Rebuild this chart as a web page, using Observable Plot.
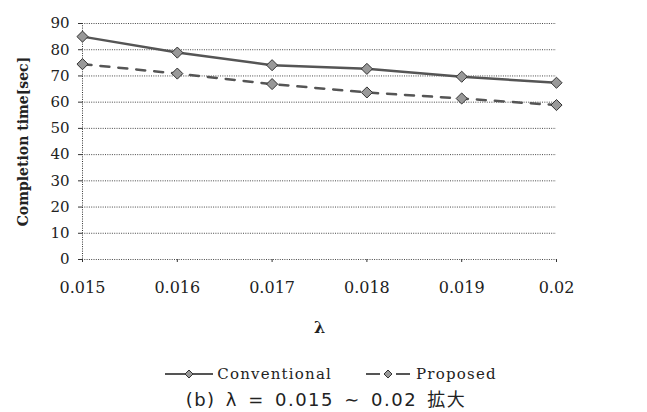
<!DOCTYPE html>
<html>
<head>
<meta charset="utf-8">
<script src="https://cdn.jsdelivr.net/npm/d3@7"></script>
<script src="https://cdn.jsdelivr.net/npm/@observablehq/plot@0.6"></script>
<style>
  body { margin: 0; background: #fff; width: 647px; height: 412px; overflow: hidden; }
  #legend { display: flex; justify-content: center; align-items: center; gap: 32px;
    font-family: "DejaVu Serif", serif; font-size: 15px; letter-spacing: 1.2px; color: #222;
    height: 20px; margin-top: 19px; padding-left: 15px; }
  #legend .item { display: flex; align-items: center; gap: 4px; }
  #caption { text-align: center; font-family: "DejaVu Sans", "Noto Sans CJK JP", sans-serif;
    font-size: 18px; letter-spacing: 1.5px; word-spacing: 3px; color: #222; line-height: 22px; margin-top: 3px; padding-left: 5px; }
</style>
</head>
<body>
<div id="chart"></div>
<div id="legend"></div>
<div id="caption">(b) λ = 0.015 ∼ 0.02 <span style="font-family:'Noto Sans CJK JP'">拡大</span></div>
<script>
const lambdas = [0.015, 0.016, 0.017, 0.018, 0.019, 0.02];
const conventional = [85.0, 78.9, 74.1, 72.7, 69.7, 67.4];
const proposed = [74.5, 70.9, 66.9, 63.7, 61.4, 58.9];
const seriesNames = ["Conventional", "Proposed"];
const yTicks = [0, 10, 20, 30, 40, 50, 60, 70, 80, 90];
const xLabel = "λ";
const yLabel = "Completion time[sec]";

const data = [
  ...lambdas.map((x, i) => ({x, y: conventional[i], s: seriesNames[0]})),
  ...lambdas.map((x, i) => ({x, y: proposed[i], s: seriesNames[1]}))
];

const chart = Plot.plot({
  width: 647,
  height: 345,
  marginLeft: 82,
  marginRight: 91,
  marginTop: 23,
  marginBottom: 86,
  style: { fontFamily: "DejaVu Serif, serif", fontSize: "14px", color: "#222", background: "#fff" },
  x: { domain: [0.015, 0.02] },
  y: { domain: [0, 90] },
  marks: [
    Plot.gridY(yTicks, { stroke: "#333", strokeOpacity: 0.9, strokeDasharray: "1,1.3", strokeWidth: 1 }),
    Plot.ruleX([0.015], { stroke: "#333", strokeDasharray: "1,1.3" }),
    Plot.axisY({ ticks: yTicks, tickSize: 4, tickPadding: 9, label: null, stroke: "#333", fontSize: 15 }),
    Plot.axisX({ ticks: lambdas, tickSize: 3, tickPadding: 19, label: null, stroke: "#333", fontSize: 16, tickFormat: d => String(d) }),
    Plot.line(data.filter(d => d.s === seriesNames[0]), { x: "x", y: "y", stroke: "#555", strokeWidth: 2.5 }),
    Plot.line(data.filter(d => d.s === seriesNames[1]), { x: "x", y: "y", stroke: "#555", strokeWidth: 2.5, strokeDasharray: "9,9" }),
    Plot.dot(data, { x: "x", y: "y", symbol: "diamond2", r: 5, fill: "#999", stroke: "#333", strokeWidth: 1 }),
    Plot.text([xLabel], { frameAnchor: "bottom", dy: 68, lineAnchor: "middle", fontWeight: "bold", fontSize: 16 }),
    Plot.text([yLabel], { frameAnchor: "left", dx: -59, rotate: -90, textAnchor: "middle", lineAnchor: "middle", fontWeight: "bold", fontSize: 14 })
  ]
});
document.getElementById("chart").appendChild(chart);

const legend = document.getElementById("legend");
seriesNames.forEach((name, i) => {
  const item = document.createElement("div");
  item.className = "item";
  const line = i === 1
    ? '<line x1="2" y1="6" x2="16" y2="6" stroke="#555" stroke-width="2"/><line x1="32" y1="6" x2="46" y2="6" stroke="#555" stroke-width="2"/>'
    : '<line x1="0" y1="6" x2="48" y2="6" stroke="#555" stroke-width="2"/>';
  item.innerHTML = `<svg width="48" height="12">${line}<path d="M24,2 L28,6 L24,10 L20,6 Z" fill="#999" stroke="#333" stroke-width="1"/></svg><span>${name}</span>`;
  legend.appendChild(item);
});
</script>
</body>
</html>
